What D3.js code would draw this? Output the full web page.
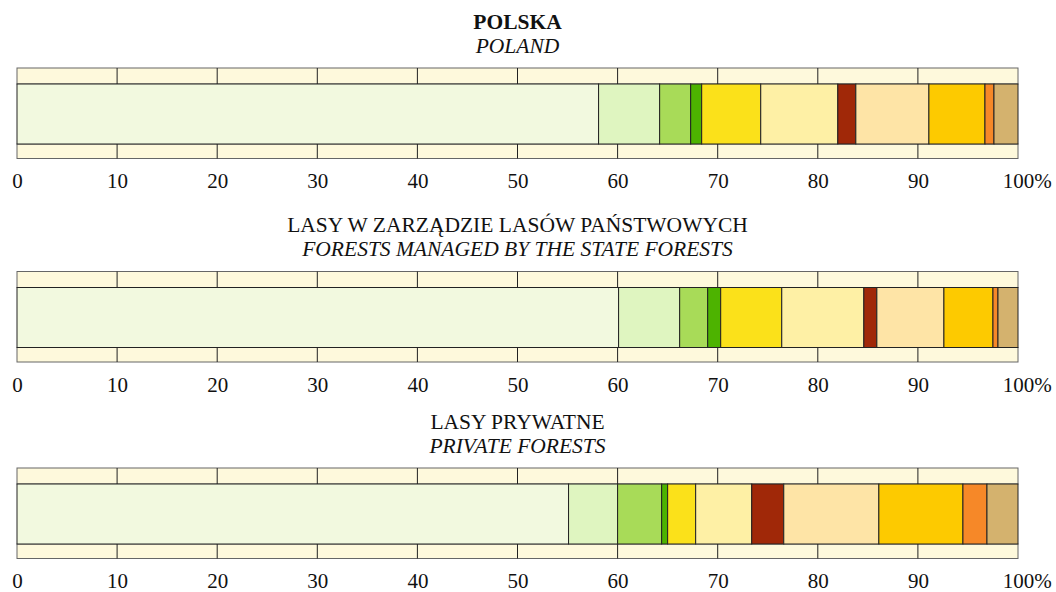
<!DOCTYPE html>
<html>
<head>
<meta charset="utf-8">
<script src="https://cdn.jsdelivr.net/npm/d3@7"></script>
<style>
  body { margin: 0; background: #fff; }
</style>
</head>
<body>
<div id="chart"></div>
<script>
const titlesPl = ['POLSKA', 'LASY W ZARZĄDZIE LASÓW PAŃSTWOWYCH', 'LASY PRYWATNE'];
const titlesEn = ['POLAND', 'FORESTS MANAGED BY THE STATE FORESTS', 'PRIVATE FORESTS'];
const tickValues = [0, 10, 20, 30, 40, 50, 60, 70, 80, 90, 100];

// udział (%) kolejnych kategorii, od lewej
const poland = [58.1, 6.1, 3.1, 1.1, 5.9, 7.7, 1.8, 7.3, 5.6, 0.9, 2.4];
const stateForests = [60.1, 6.1, 2.8, 1.3, 6.1, 8.2, 1.3, 6.7, 4.9, 0.5, 2.0];
const privateForests = [55.1, 4.9, 4.4, 0.6, 2.8, 5.6, 3.2, 9.5, 8.4, 2.4, 3.1];
const series = [poland, stateForests, privateForests];

const colors = ['#f2f9df', '#dff5c0', '#a8db58', '#4db300', '#fbe11a', '#fef0a5',
                '#a02808', '#fee4a6', '#fdca00', '#f68828', '#d4b26e'];

const FONT = "'Liberation Serif', serif";
const width = 1056, height = 592;
const panelTop = [68, 271.5, 468];
const bandTop = 16, barH = 60, bandBottom = 14.5;

const svg = d3.select('#chart').append('svg')
  .attr('width', width).attr('height', height);

const x = d3.scaleLinear().domain([0, 100]).range([17, 1018]);

series.forEach((vals, i) => {
  const top = panelTop[i];
  const g = svg.append('g').attr('transform', `translate(0,${top})`);

  // tytuły
  g.append('text')
    .attr('x', x(50)).attr('y', -39.5)
    .attr('text-anchor', 'middle')
    .attr('font-family', FONT)
    .attr('font-size', 21.5)
    .attr('font-weight', i === 0 ? 'bold' : 'normal')
    .attr('fill', '#111')
    .text(titlesPl[i]);
  g.append('text')
    .attr('x', x(50)).attr('y', -15.5)
    .attr('text-anchor', 'middle')
    .attr('font-family', FONT)
    .attr('font-size', 21.5)
    .attr('font-style', 'italic')
    .attr('fill', '#111')
    .text(titlesEn[i]);

  // pasy z podziałką
  const bands = [
    { y: 0, h: bandTop },
    { y: bandTop + barH, h: bandBottom }
  ];
  bands.forEach(b => {
    g.append('rect')
      .attr('x', x(0)).attr('y', b.y)
      .attr('width', x(100) - x(0)).attr('height', b.h)
      .attr('fill', '#fef9dc')
      .attr('stroke', '#666').attr('stroke-width', 1);
    g.selectAll(null)
      .data(tickValues.slice(1, -1))
      .enter()
      .append('line')
      .attr('x1', d => x(d)).attr('x2', d => x(d))
      .attr('y1', b.y).attr('y2', b.y + b.h)
      .attr('stroke', '#222').attr('stroke-width', 1);
  });

  // segmenty
  let acc = 0;
  const segs = vals.map((v, k) => {
    const s = { start: acc, value: v, color: colors[k] };
    acc += v;
    return s;
  });
  g.selectAll('.seg')
    .data(segs)
    .enter()
    .append('rect')
    .attr('class', 'seg')
    .attr('x', d => x(d.start))
    .attr('y', bandTop)
    .attr('width', d => x(d.start + d.value) - x(d.start))
    .attr('height', barH)
    .attr('fill', d => d.color)
    .attr('stroke', '#222')
    .attr('stroke-width', 1);

  // oś
  const axis = g.append('g')
    .attr('transform', `translate(0,${bandTop + barH + bandBottom})`)
    .call(d3.axisBottom(x).tickValues(tickValues).tickSize(0).tickPadding(0).tickFormat(d => d));
  axis.select('.domain').remove();
  axis.attr('font-family', FONT).attr('font-size', 21);
  axis.selectAll('text')
    .attr('y', 0)
    .attr('dy', 0)
    .attr('transform', 'translate(0,29.5)')
    .attr('fill', '#111');
  // ostatnia etykieta: "100" wyśrodkowane na podziałce, "%" doklejone
  axis.selectAll('.tick').filter(d => d === 100).select('text').each(function () {
    const t = d3.select(this);
    const w = this.getComputedTextLength();
    t.text('100%').attr('text-anchor', 'start').attr('x', -w / 2);
  });
});
</script>
</body>
</html>
